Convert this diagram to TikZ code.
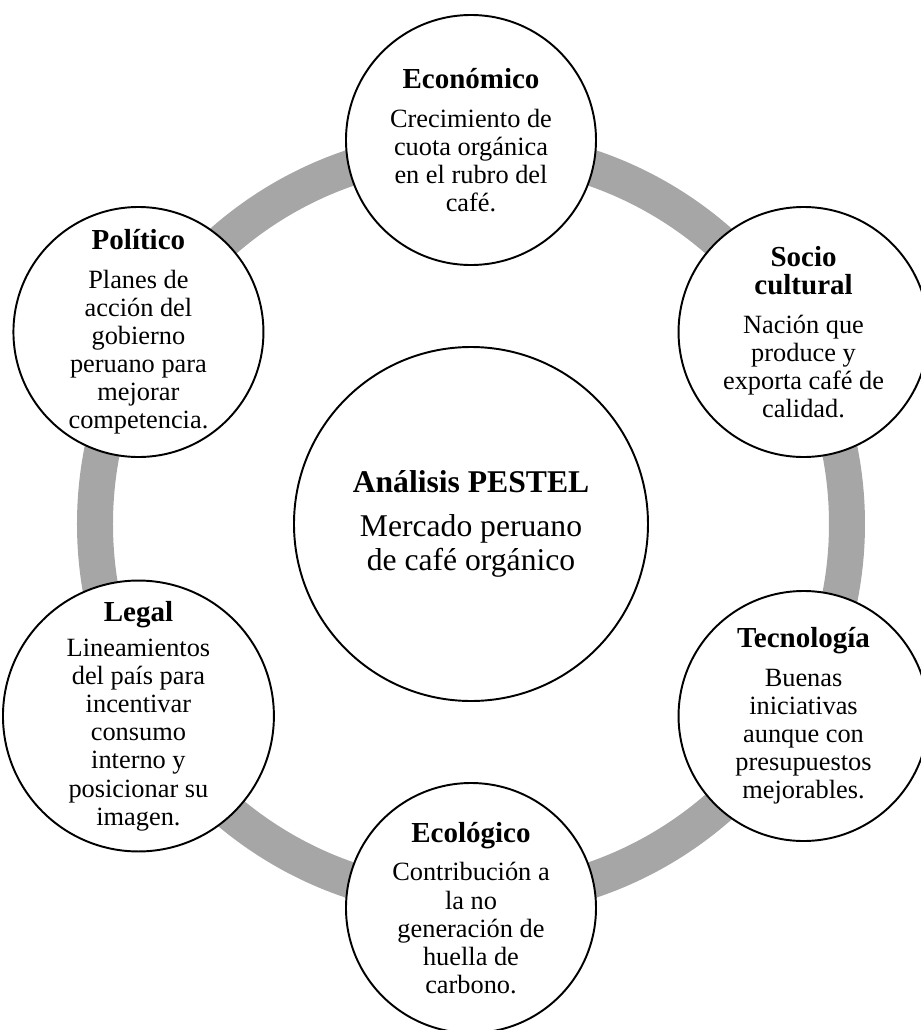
\documentclass[tikz,border=0pt]{standalone}
\usepackage{fontspec}
\setmainfont{Liberation Serif}
\usepackage{tikz}
\definecolor{anillo}{RGB}{166, 166, 166}
\newcommand{\titulo}[1]{{\fontsize{16.5}{16}\selectfont\bfseries #1}}

\begin{document}
\begin{tikzpicture}[thick,
factor/.style={circle, draw=black, line width=1.1pt, fill=white, minimum size=5cm,
  inner sep=0pt, align=center, font=\fontsize{15}{16}\selectfont},
nucleo/.style={circle, draw=black, line width=1.1pt, fill=white, minimum size=7.08cm,
  inner sep=0pt, align=center, font=\fontsize{18}{19}\selectfont}
]
  \useasboundingbox (-9.42, -10.12) rectangle (9.0, 10.48);

  % anillo gris
  \draw[color=anillo, line width=0.72cm] (0, 0) circle (7.52);

  \node[nucleo] (centro) at (0, 0)
    {\textbf{Análisis PESTEL}\\[6pt] Mercado peruano\\ de café orgánico};

  \node[factor] (eco) at (90:7.68)
    {\titulo{Económico}\\[6pt] Crecimiento de\\ cuota orgánica\\ en el rubro del\\ café.};
  \node[factor] (soc) at (30:7.68)
    {\titulo{Socio}\\ \titulo{cultural}\\[6pt] Nación que\\ produce y\\ exporta café de\\ calidad.};
  \node[factor] (tec) at (-30:7.68)
    {\titulo{Tecnología}\\[6pt] Buenas\\ iniciativas\\ aunque con\\ presupuestos\\ mejorables.};
  \node[factor] (ecol) at (-90:7.68)
    {\titulo{Ecológico}\\[6pt] Contribución a\\ la no\\ generación de\\ huella de\\ carbono.};
  \node[factor] (leg) at (210:7.68)
    {\titulo{Legal}\\[4pt] Lineamientos\\ del país para\\ incentivar\\ consumo\\ interno y\\ posicionar su\\ imagen.};
  \node[factor] (pol) at (150:7.68)
    {\titulo{Político}\\[6pt] Planes de\\ acción del\\ gobierno\\ peruano para\\ mejorar\\ competencia.};

\end{tikzpicture}
\end{document}
